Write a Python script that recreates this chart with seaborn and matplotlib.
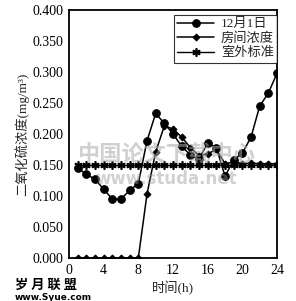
import numpy as np
import pandas as pd
import matplotlib
matplotlib.use("Agg")
import matplotlib.pyplot as plt
import seaborn as sns

hours = list(range(1, 25))
dec1 = [0.145, 0.135, 0.127, 0.111, 0.095, 0.095, 0.109, 0.120,
        0.189, 0.233, 0.217, 0.200, 0.180, 0.166, 0.160, 0.185,
        0.178, 0.132, 0.158, 0.169, 0.195, 0.245, 0.266, 0.298]
room = [0.0, 0.0, 0.0, 0.0, 0.0, 0.0, 0.0, 0.0,
        0.103, 0.171, 0.213, 0.208, 0.195, 0.178, 0.165, 0.168,
        0.175, 0.152, 0.155, 0.152, 0.153, 0.152, 0.152, 0.152]
outdoor = [0.15] * 24
labels = ["12月1日", "房间浓度", "室外标准"]
xticks = [0, 4, 8, 12, 16, 20, 24]
yticks = [0.0, 0.05, 0.10, 0.15, 0.20, 0.25, 0.30, 0.35, 0.40]

sns.set_style("white")
plt.rcParams['font.family'] = ['Liberation Serif', 'Noto Sans CJK SC', 'DejaVu Sans']

fig = plt.figure(figsize=(2.96, 3.01), dpi=100)
ax = fig.add_axes([0.233, 0.143, 0.703, 0.824])

sns.lineplot(x=hours, y=outdoor, ax=ax, color='black', lw=1.0,
             marker=(6, 2, 0), markersize=6, markeredgewidth=1.2,
             markeredgecolor='black', label=labels[2], zorder=2)
sns.lineplot(x=hours, y=room, ax=ax, color='black', lw=1.1,
             marker='D', markersize=3.5, markeredgecolor='black',
             label=labels[1], zorder=3)
sns.lineplot(x=hours, y=dec1, ax=ax, color='black', lw=1.1,
             marker='o', markersize=5.5, markeredgecolor='black',
             label=labels[0], zorder=4)

ax.set_xlim(0, 24)
ax.set_ylim(0, 0.4)
ax.set_xticks(xticks)
ax.set_yticks(yticks)
ax.set_yticklabels([f"{v:.3f}" for v in yticks])
ax.tick_params(direction='in', length=3, width=1, labelsize=10, colors='black', pad=4)
for s in ax.spines.values():
    s.set_visible(True)
    s.set_color('black')
    s.set_linewidth(1.3)

ax.set_xlabel("时间(h)", fontsize=9.5, labelpad=3)
ax.set_ylabel("二氧化硫浓度(mg/m³)", fontsize=9.5, labelpad=2)

h, l = ax.get_legend_handles_labels()
order = [l.index(t) for t in labels]
leg = ax.legend([h[i] for i in order], [l[i] for i in order],
                loc='upper right', bbox_to_anchor=(1.0, 0.98),
                fontsize=9.5, frameon=True, fancybox=False,
                edgecolor='black', handlelength=2.8, borderpad=0.25,
                labelspacing=0.15, handletextpad=0.5, borderaxespad=0.0)
leg.get_frame().set_linewidth(0.8)

# watermarks
fig.text(0.56, 0.485, "中国论文下载中心", fontsize=16, color='#aaaaaa', alpha=0.55,
         ha='center', va='center', family=['Noto Sans CJK SC'], weight='bold')
fig.text(0.56, 0.405, "www.studa.net", fontsize=12, color='#999999', alpha=0.45,
         ha='center', va='center', family=['DejaVu Sans'], weight='bold')
fig.text(0.05, 0.054, "岁 月 联 盟", fontsize=9.5, color='black',
         ha='left', va='center', family=['Noto Sans CJK SC'], weight='bold')
fig.text(0.05, 0.012, "www.Syue.com", fontsize=6.5, color='black',
         ha='left', va='center', family=['DejaVu Sans'], weight='bold')

fig.savefig("out.png", dpi=100)
